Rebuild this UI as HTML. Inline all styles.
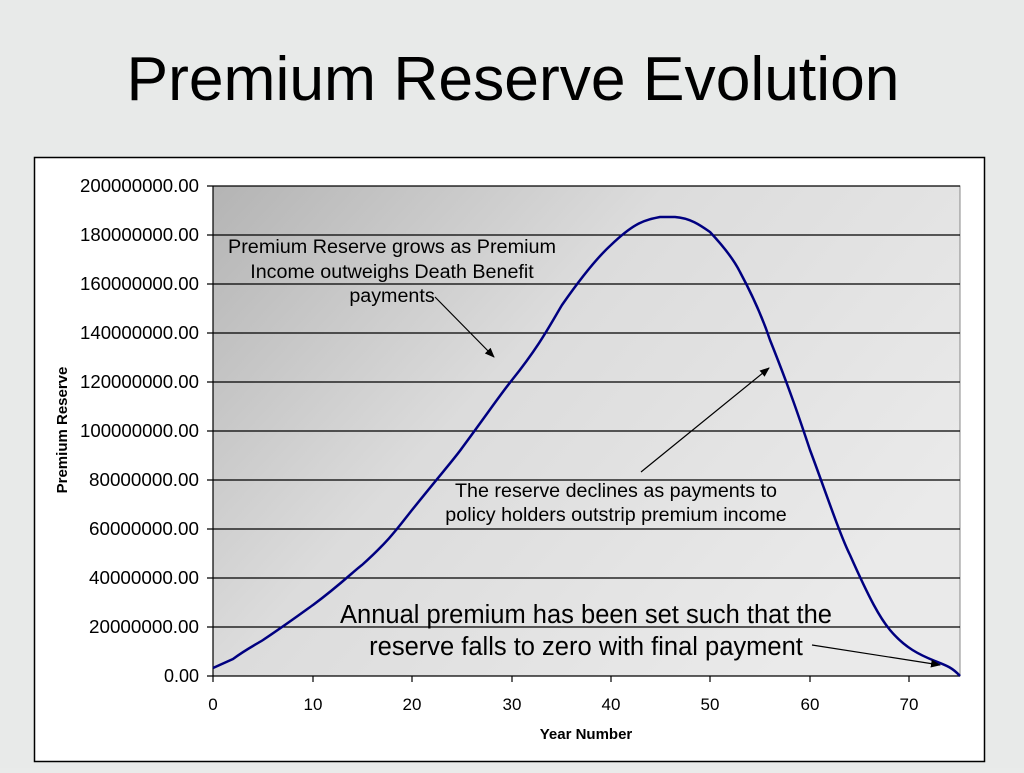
<!DOCTYPE html>
<html><head><meta charset="utf-8"><style>
body{margin:0;width:1024px;height:768px;background:#e9ebea;overflow:hidden;font-family:"Liberation Sans",sans-serif;}
</style></head><body>
<svg width="1024" height="768" xmlns="http://www.w3.org/2000/svg" font-family="Liberation Sans, sans-serif">
<defs>
<linearGradient id="g" x1="0" y1="0" x2="1" y2="0.6">
<stop offset="0" stop-color="#b4b4b4"/><stop offset="0.45" stop-color="#dcdcdc"/><stop offset="1" stop-color="#eaeaea"/>
</linearGradient>
<marker id="a" markerWidth="10" markerHeight="8" refX="9" refY="4" orient="auto" markerUnits="userSpaceOnUse"><path d="M0,0 L10,4 L0,8 z" fill="#000"/></marker>
</defs>
<rect width="1024" height="768" fill="#e8eae9"/>
<text x="513" y="100" font-size="62" text-anchor="middle" fill="#000" textLength="773" lengthAdjust="spacingAndGlyphs">Premium Reserve Evolution</text>
<rect x="34.5" y="157.5" width="950" height="604" fill="#fff" stroke="#000" stroke-width="1.5"/>
<rect x="213" y="186" width="747" height="490" fill="url(#g)" stroke="#888" stroke-width="1"/>
<g stroke="#000" stroke-width="1.2">
<line x1="207" y1="186" x2="960" y2="186"/><line x1="207" y1="235" x2="960" y2="235"/>
<line x1="207" y1="284" x2="960" y2="284"/><line x1="207" y1="333" x2="960" y2="333"/>
<line x1="207" y1="382" x2="960" y2="382"/><line x1="207" y1="431" x2="960" y2="431"/>
<line x1="207" y1="480" x2="960" y2="480"/><line x1="207" y1="529" x2="960" y2="529"/>
<line x1="207" y1="578" x2="960" y2="578"/><line x1="207" y1="627" x2="960" y2="627"/>
<line x1="207" y1="676" x2="960" y2="676"/>
<line x1="213" y1="186" x2="213" y2="682"/>
<line x1="313" y1="676" x2="313" y2="682"/><line x1="412" y1="676" x2="412" y2="682"/>
<line x1="512" y1="676" x2="512" y2="682"/><line x1="611" y1="676" x2="611" y2="682"/>
<line x1="710" y1="676" x2="710" y2="682"/><line x1="810" y1="676" x2="810" y2="682"/>
<line x1="909" y1="676" x2="909" y2="682"/>
</g>
<g font-size="18" text-anchor="end">
<text x="199" y="192" textLength="119" lengthAdjust="spacingAndGlyphs">200000000.00</text><text x="199" y="241" textLength="119" lengthAdjust="spacingAndGlyphs">180000000.00</text>
<text x="199" y="290" textLength="119" lengthAdjust="spacingAndGlyphs">160000000.00</text><text x="199" y="339" textLength="119" lengthAdjust="spacingAndGlyphs">140000000.00</text>
<text x="199" y="388" textLength="119" lengthAdjust="spacingAndGlyphs">120000000.00</text><text x="199" y="437" textLength="119" lengthAdjust="spacingAndGlyphs">100000000.00</text>
<text x="199" y="486" textLength="110" lengthAdjust="spacingAndGlyphs">80000000.00</text><text x="199" y="535" textLength="110" lengthAdjust="spacingAndGlyphs">60000000.00</text>
<text x="199" y="584" textLength="110" lengthAdjust="spacingAndGlyphs">40000000.00</text><text x="199" y="633" textLength="110" lengthAdjust="spacingAndGlyphs">20000000.00</text>
<text x="199" y="682">0.00</text>
</g>
<g font-size="17" text-anchor="middle">
<text x="213" y="710">0</text><text x="313" y="710">10</text><text x="412" y="710">20</text>
<text x="512" y="710">30</text><text x="611" y="710">40</text><text x="710" y="710">50</text>
<text x="810" y="710">60</text><text x="909" y="710">70</text>
</g>
<text x="586" y="739" font-size="15" font-weight="bold" text-anchor="middle">Year Number</text>
<text transform="translate(67,430) rotate(-90)" font-size="15" font-weight="bold" text-anchor="middle">Premium Reserve</text>
<path fill="none" stroke="#000080" stroke-width="2.5" stroke-linejoin="round" d="M213,668 L233,659 C245,650 255,645 263,640 C290,622 310,607 313,605 C340,585 355,570 362,565 C390,540 400,525 412,510 C440,475 455,458 462,448 C490,410 500,395 512,380 C540,345 550,325 562,305 C585,272 600,255 611,245 C635,222 645,220 660,217 L675,217 C690,218 700,225 710,232 C725,248 735,262 740,272 C755,300 765,325 770,340 C790,390 800,420 810,450 C825,490 840,535 850,555 C870,600 880,618 890,630 C905,648 920,655 935,661 C945,665 952,667 960,676"/>
<g font-size="19.7" text-anchor="middle">
<text x="392" y="253" textLength="328" lengthAdjust="spacingAndGlyphs">Premium Reserve grows as Premium</text>
<text x="392" y="278">Income outweighs Death Benefit</text>
<text x="392" y="302">payments</text>
<text x="616" y="497" textLength="322" lengthAdjust="spacingAndGlyphs">The reserve declines as payments to</text>
<text x="616" y="521">policy holders outstrip premium income</text>
<text x="586" y="623" font-size="25.5" textLength="492" lengthAdjust="spacingAndGlyphs">Annual premium has been set such that the</text>
<text x="586" y="655" font-size="25.5">reserve falls to zero with final payment</text>
</g>
<g stroke="#000" stroke-width="1.2" fill="none">
<line x1="435" y1="297" x2="494" y2="357" marker-end="url(#a)"/>
<line x1="641" y1="472" x2="769" y2="368" marker-end="url(#a)"/>
<line x1="812" y1="645" x2="940" y2="665" marker-end="url(#a)"/>
</g>
</svg>
</body></html>
